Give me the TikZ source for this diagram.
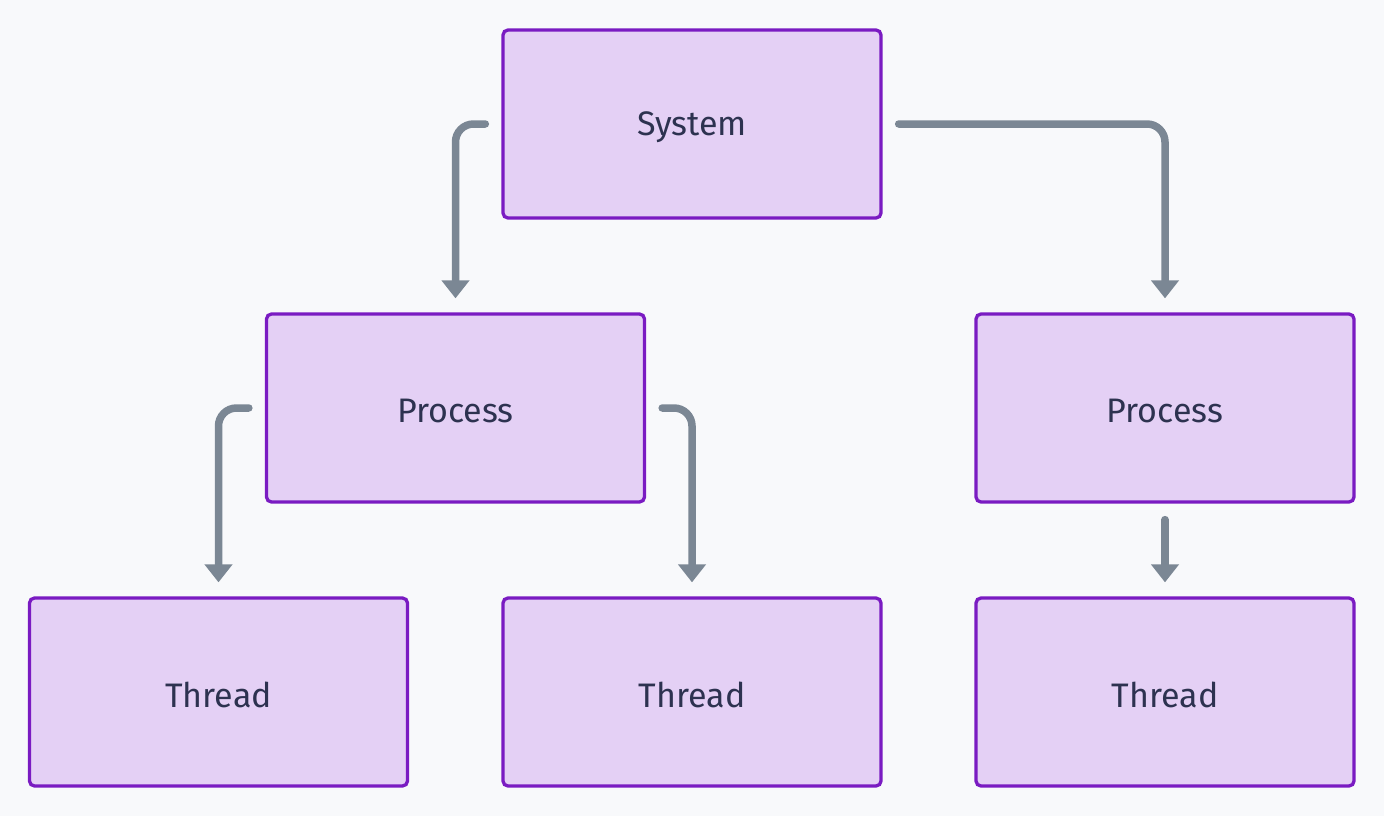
\documentclass[tikz,border=0pt]{standalone}
\usepackage{fontspec}
\setmainfont{Fira Sans}
\usetikzlibrary{arrows.meta,calc}
\definecolor{bg}{HTML}{F8F9FB}
\definecolor{boxfill}{HTML}{E4D0F5}
\definecolor{boxdraw}{HTML}{7A1BC2}
\definecolor{arrcol}{HTML}{7B8794}
\definecolor{txt}{HTML}{2D3250}
\begin{document}
\begin{tikzpicture}[x=1pt,y=-1pt,
  box/.style={draw=boxdraw,fill=boxfill,line width=3.3pt,rounded corners=5pt,
    minimum width=378pt,minimum height=188pt,inner sep=0pt,
    font=\fontsize{34}{40}\selectfont,text=txt},
  lbl/.style={font=\fontsize{34}{40}\selectfont,text=txt,inner sep=0pt},
  arr/.style={draw=arrcol,line width=7.5pt,line cap=round,rounded corners=18pt,
    -{Triangle[width=27pt,length=18pt]}}]
\fill[bg] (0,0) rectangle (1384,816);
\useasboundingbox (0,0) rectangle (1384,816);
\node[box] (sys) at (692,124) {};
\node[box] (pl) at (455.5,408) {};
\node[box] (pr) at (1165,408) {};
\node[box] (t1) at (218.5,692) {};
\node[box] (t2) at (692,692) {};
\node[box] (t3) at (1165,692) {};
\node[lbl] (lsys) at ([yshift=-3pt]sys.center) {System};
\node[lbl] (lpl) at ([yshift=-3pt]pl.center) {Process};
\node[lbl] (lpr) at ([yshift=-3pt]pr.center) {Process};
\node[lbl] (lt1) at ([yshift=-3pt]t1.center) {Thread};
\node[lbl] (lt2) at ([yshift=-3pt]t2.center) {Thread};
\node[lbl] (lt3) at ([yshift=-3pt]t3.center) {Thread};
\draw[arr] ($(sys.west)+(-16,0)$) -| ($(pl.north)+(0,-14)$);
\draw[arr] ($(sys.east)+(16,0)$) -| ($(pr.north)+(0,-14)$);
\draw[arr] ($(pl.west)+(-16,0)$) -| ($(t1.north)+(0,-14)$);
\draw[arr] ($(pl.east)+(16,0)$) -| ($(t2.north)+(0,-14)$);
\draw[arr] ($(pr.south)+(0,16)$) -- ($(t3.north)+(0,-14)$);
\end{tikzpicture}
\end{document}
